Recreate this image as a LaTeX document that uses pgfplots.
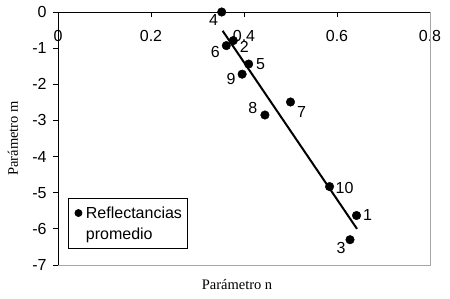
\documentclass[border=0pt]{standalone}
\usepackage{fontspec}
\setmainfont{Liberation Sans}
\newfontfamily\serif{Liberation Serif}
\usepackage{pgfplots}
\pgfplotsset{compat=1.18}
\newcommand\fs{\fontsize{16bp}{19bp}\selectfont}
\begin{document}
\begin{tikzpicture}
\begin{axis}[
  scale only axis, width=372bp, height=253bp,
  xmin=0, xmax=0.8, ymin=-7, ymax=0,
  xtick={0,0.2,0.4,0.6,0.8}, ytick={-7,-6,...,0},
  xtick pos=right, xticklabel pos=right,
  ytick pos=left, yticklabel pos=left,
  tick align=inside, major tick length=5bp,
  tick style={black, line width=0.8bp},
  ytick style={xshift=-5bp},
  axis line style={draw=none},
  tick label style={font=\fs},
  /pgf/number format/assume math mode=true,
  xticklabel style={anchor=north, yshift=-15bp},
  yticklabel style={xshift=-8bp},
  clip=false,
  xlabel={Parámetro n}, ylabel={Parámetro m},
  every axis x label/.style={at={(rel axis cs:0.5,0)}, anchor=center, yshift=-20bp, xshift=-7bp, font=\serif\fontsize{14.5bp}{16bp}\selectfont},
  every axis y label/.style={at={(rel axis cs:0,0.5)}, anchor=center, xshift=-45bp, rotate=90, font=\serif\fontsize{14.5bp}{16bp}\selectfont},
  legend style={at={(rel axis cs:0.027,0.063)}, anchor=south west, draw=black, line width=0.8bp, font=\fs,
    nodes={inner xsep=4bp, inner ysep=2bp}, row sep=4bp, inner ysep=6bp, inner xsep=1.5bp},
  legend image post style={mark size=3.5bp},
  legend cell align=left,
  lbl/.style 2 args={only marks, mark=none, forget plot, nodes near coords, point meta=explicit symbolic,
    every node near coord/.append style={anchor=center, font=\fs, inner sep=0pt, xshift=#1bp, yshift=#2bp}},
]
\draw[gray!70, line width=0.8bp] (rel axis cs:1,1) -- (rel axis cs:1,0) -- (rel axis cs:0,0);
\draw[black, line width=0.9bp] (rel axis cs:0,0) -- (rel axis cs:0,1) -- (rel axis cs:1,1);
\coordinate (sw) at (rel axis cs:0,0);
\coordinate (ne) at (rel axis cs:1,1);
\addplot[black, line width=2bp, no marks, forget plot] coordinates {(0.354,-0.52) (0.643,-6.0)};
\addplot[only marks, mark=*, mark size=4.3bp, black] coordinates {
 (0.642,-5.63) (0.377,-0.79) (0.628,-6.30) (0.352,0.00) (0.410,-1.44)
 (0.362,-0.93) (0.500,-2.49) (0.445,-2.85) (0.396,-1.72) (0.584,-4.83)};
\addlegendentry{Reflectancias}
\addlegendimage{empty legend}
\addlegendentry{promedio}
\addplot[lbl={11}{0}] coordinates {(0.642,-5.63) [1]};
\addplot[lbl={11}{-6}] coordinates {(0.377,-0.79) [2]};
\addplot[lbl={-9}{-8}] coordinates {(0.628,-6.30) [3]};
\addplot[lbl={-8}{-8}] coordinates {(0.352,0.00) [4]};
\addplot[lbl={12}{0}] coordinates {(0.410,-1.44) [5]};
\addplot[lbl={-11}{-6}] coordinates {(0.362,-0.93) [6]};
\addplot[lbl={11}{-10}] coordinates {(0.500,-2.49) [7]};
\addplot[lbl={-12}{7}] coordinates {(0.445,-2.85) [8]};
\addplot[lbl={-11}{-5}] coordinates {(0.396,-1.72) [9]};
\addplot[lbl={15}{-1}] coordinates {(0.584,-4.83) [10]};
\end{axis}
\pgfresetboundingbox
\path[use as bounding box] ([shift={(-58bp,-33bp)}]sw) rectangle ([shift={(20bp,12bp)}]ne);
\end{tikzpicture}
\end{document}
